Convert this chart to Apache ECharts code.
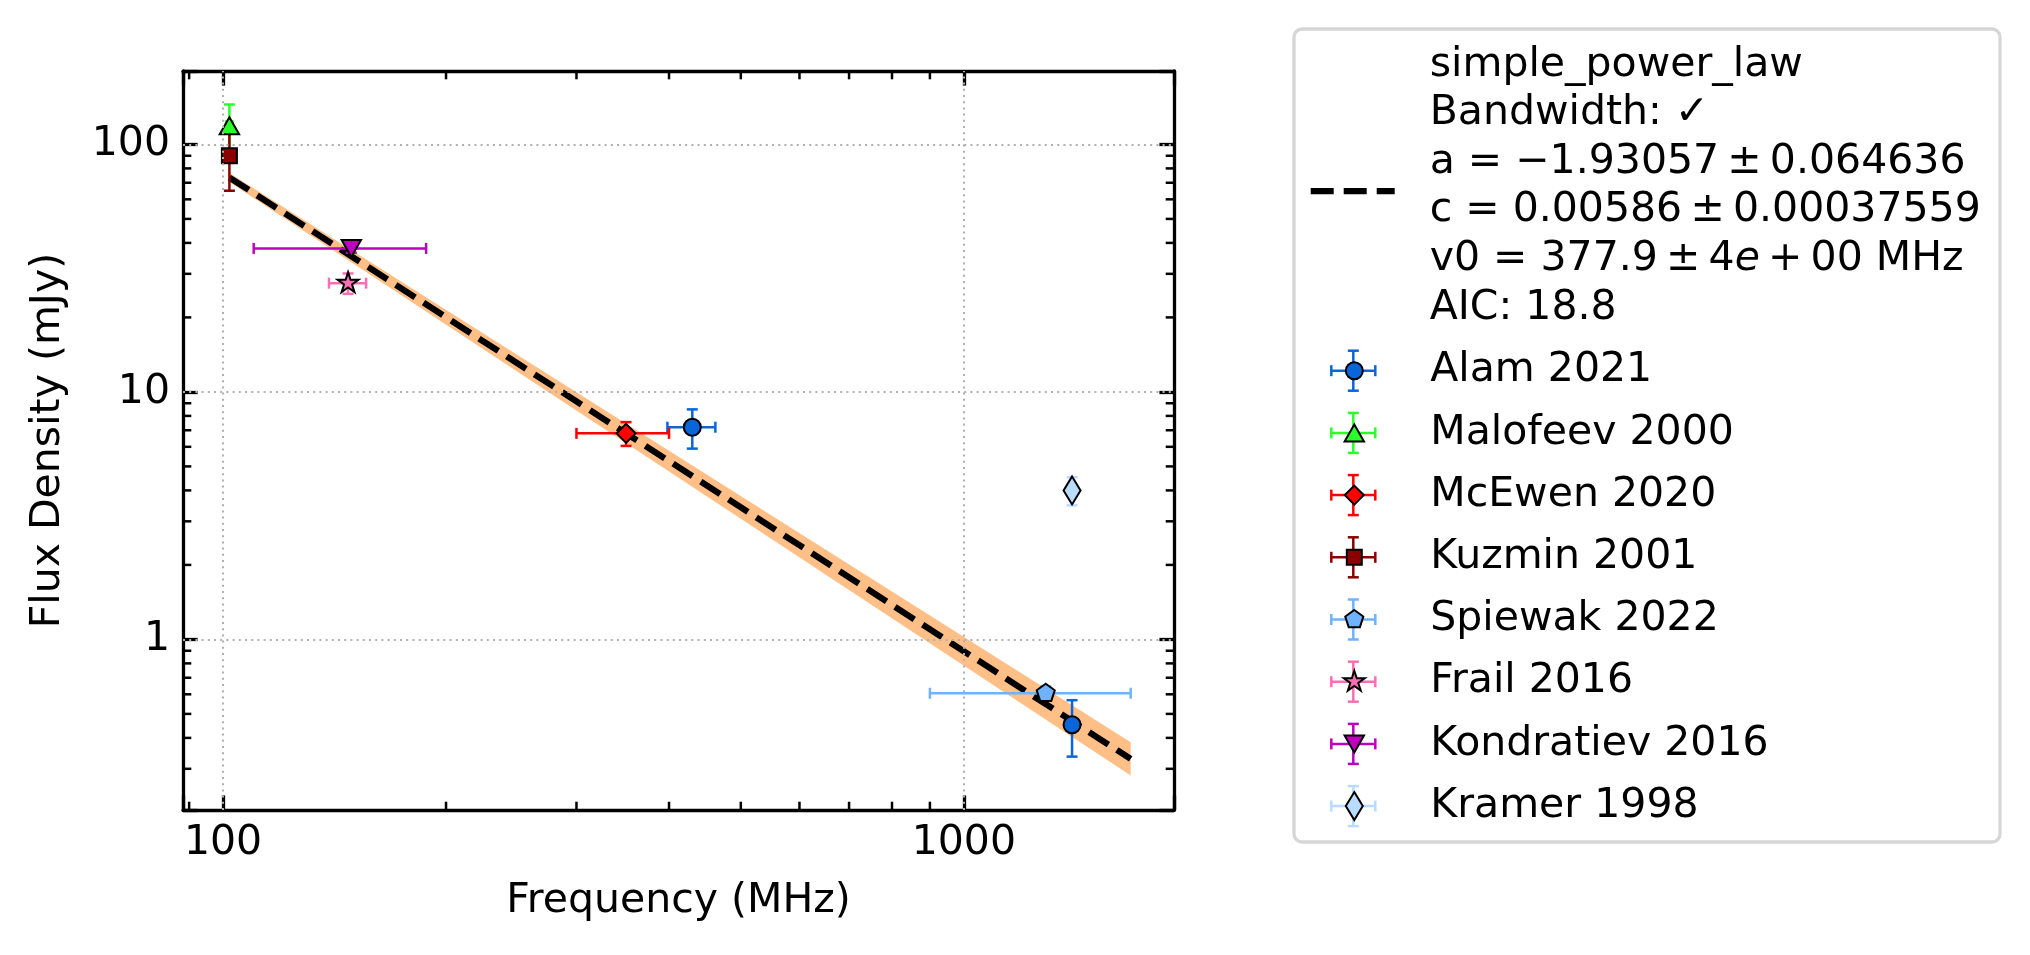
<!DOCTYPE html>
<html>
<head>
<meta charset="utf-8">
<title>Flux density spectrum</title>
<script src="https://cdn.jsdelivr.net/npm/echarts@6.0.0/dist/echarts.min.js"></script>
<style>
html, body { margin: 0; padding: 0; background: #ffffff; }
#spectrum { width: 2030px; height: 955px; }
</style>
</head>
<body>
<div id="spectrum"></div>
<script>
// each row: [frequency (MHz), freq error, flux density (mJy), flux error]
var alam2021       = [[430, 32, 7.2, 1.3], [1400, 25, 0.452, 0.116]];
var malofeev2000   = [[102, 1, 119, 26]];
var mcewen2020     = [[350, 50, 6.8, 0.75]];
var kuzmin2001     = [[102, 1, 90, 25]];
var spiewak2022    = [[1290, 390, 0.606, 0.04]];
var frail2016      = [[147.5, 8.5, 27.5, 2.6]];
var kondratiev2016 = [[149, 39, 38, 1.5]];
var kramer1998     = [[1400, 20, 4.0, 0.52]];

var surveyNames = ['Alam 2021', 'Malofeev 2000', 'McEwen 2020', 'Kuzmin 2001',
                   'Spiewak 2022', 'Frail 2016', 'Kondratiev 2016', 'Kramer 1998'];
var surveyData = [alam2021, malofeev2000, mcewen2020, kuzmin2001,
                  spiewak2022, frail2016, kondratiev2016, kramer1998];

// fitted power law + its uncertainty band
var fitFreq  = [102, 1680];
var fitFlux  = [73.5, 0.329];
var bandFreq = [102, 378, 1680];
var bandLow  = [70.5, 5.33, 0.282];
var bandHigh = [76.6, 6.44, 0.384];

var xMinor = [90, 200, 300, 400, 500, 600, 700, 800, 900];
var yMinor = [0.3, 0.4, 0.5, 0.6, 0.7, 0.8, 0.9, 2, 3, 4, 5, 6, 7, 8, 9,
              20, 30, 40, 50, 60, 70, 80, 90];
var xGrid = [100, 1000];
var yGrid = [1, 10, 100];

var FIT_NAME = 'simple_power_law';
var TS = '\u2009';  // thin space, like mathtext around binary operators
var fitLabel = [
    'simple_power_law',
    'Bandwidth: \u2713',
    'a = \u22121.93057' + TS + '\u00b1' + TS + '0.064636',
    'c = 0.00586' + TS + '\u00b1' + TS + '0.00037559',
    'v0 = 377.9' + TS + '\u00b1' + TS + '4{it|e}' + TS + '+' + TS + '00 MHz',
    'AIC: 18.8'
];

// ---- styling ----
var FONT = 'DejaVu Sans';
var colors = ['#0a66d8', '#2bff2b', '#ff0000', '#8b0000', '#6fb3ff', '#ff6eb4', '#c000c0', '#b9dbff'];
var PAD = 'M-16,-16 M16,16 ';   // keeps every marker in the same 32px frame
var markers = [
    'path://' + PAD + 'M-8.5,0 A8.5,8.5 0 1,1 8.5,0 A8.5,8.5 0 1,1 -8.5,0 Z',
    'path://' + PAD + 'M0,-8.5 L9.7,8.5 L-9.7,8.5 Z',
    'path://' + PAD + 'M0,-9.5 L9.5,0 L0,9.5 L-9.5,0 Z',
    'path://' + PAD + 'M-7.5,-7.5 L7.5,-7.5 L7.5,7.5 L-7.5,7.5 Z',
    'path://' + PAD + 'M0,-9.5 L9.04,-2.94 L5.58,7.69 L-5.58,7.69 L-9.04,-2.94 Z',
    'path://' + PAD + 'M0,-11 L2.47,-3.4 L10.46,-3.4 L4,1.3 L6.47,8.9 L0,4.2 L-6.47,8.9 L-4,1.3 L-10.46,-3.4 L-2.47,-3.4 Z',
    'path://' + PAD + 'M-9.7,-8.5 L9.7,-8.5 L0,8.5 Z',
    'path://' + PAD + 'M0,-14 L8.5,0 L0,14 L-8.5,0 Z'
];
var dashIcon = 'path://M0,0 L23,0 L23,6.25 L0,6.25 Z M33,0 L56,0 L56,6.25 L33,6.25 Z M66,0 L84,0 L84,6.25 L66,6.25 Z';

var chart = echarts.init(document.getElementById('spectrum'));

function tickLabel(v) {
    var l = Math.log10(v);
    if (Math.abs(l - Math.round(l)) > 1e-6) return '';
    return String(Math.round(v));
}

function errorBars(color) {
    return function (params, api) {
        var x = api.value(0), xe = api.value(1), y = api.value(2), ye = api.value(3);
        var l = api.coord([x - xe, y]), r = api.coord([x + xe, y]);
        var t = api.coord([x, y + ye]), b = api.coord([x, y - ye]);
        var cap = 5.5;
        var st = { stroke: color, lineWidth: 2.5 };
        function seg(x1, y1, x2, y2) {
            return { type: 'line', shape: { x1: x1, y1: y1, x2: x2, y2: y2 }, style: st };
        }
        return {
            type: 'group',
            children: [
                seg(l[0], l[1], r[0], r[1]),
                seg(t[0], t[1], b[0], b[1]),
                seg(l[0], l[1] - cap, l[0], l[1] + cap),
                seg(r[0], r[1] - cap, r[0], r[1] + cap),
                seg(t[0] - cap, t[1], t[0] + cap, t[1]),
                seg(b[0] - cap, b[1], b[0] + cap, b[1])
            ]
        };
    };
}

var tickStyle = { stroke: '#000', lineWidth: 2.5 };

var series = [];

// dotted grid at the decades
series.push({
    type: 'line', name: 'grid', data: [], z: 0, silent: true,
    markLine: {
        silent: true, symbol: ['none', 'none'], label: { show: false },
        lineStyle: { color: '#b0b0b0', width: 2, type: [2, 4.2] },
        data: xGrid.map(function (v) { return { xAxis: v }; })
            .concat(yGrid.map(function (v) { return { yAxis: v }; }))
    }
});

// uncertainty band
series.push({
    type: 'custom', name: 'band', z: 1, silent: true,
    data: bandFreq.map(function (f, i) { return [f, bandLow[i], bandHigh[i]]; }),
    renderItem: function (params, api) {
        if (params.dataIndex !== 0) return;
        var pts = [];
        for (var i = 0; i < bandFreq.length; i++) pts.push(api.coord([bandFreq[i], bandHigh[i]]));
        for (var j = bandFreq.length - 1; j >= 0; j--) pts.push(api.coord([bandFreq[j], bandLow[j]]));
        return { type: 'polygon', shape: { points: pts }, style: { fill: '#ffbf86' } };
    }
});

// fitted line
series.push({
    type: 'line', name: FIT_NAME, z: 2, silent: true,
    symbol: 'none', showSymbol: false,
    data: fitFreq.map(function (f, i) { return [f, fitFlux[i]]; }),
    itemStyle: { color: '#000' },
    lineStyle: { color: '#000', width: 6.25, type: [23, 10] }
});

surveyData.forEach(function (rows, i) {
    series.push({
        type: 'custom', name: surveyNames[i] + ' err', z: 3, silent: true,
        encode: { x: 0, y: 2 },
        data: rows,
        renderItem: errorBars(colors[i])
    });
    series.push({
        type: 'scatter', name: surveyNames[i], z: 4, silent: true,
        symbol: markers[i], symbolSize: 32, symbolKeepAspect: true,
        data: rows.map(function (r) { return [r[0], r[2]]; }),
        itemStyle: { color: colors[i], borderColor: '#000', borderWidth: 2, opacity: 1 }
    });
});

// minor ticks on all four sides
series.push({
    type: 'custom', name: 'xminor', z: 6, silent: true,
    data: xMinor.map(function (v) { return [v, 1]; }),
    renderItem: function (params, api) {
        var cs = params.coordSys;
        var px = api.coord([api.value(0), 1])[0];
        return { type: 'group', children: [
            { type: 'line', shape: { x1: px, y1: cs.y + cs.height, x2: px, y2: cs.y + cs.height - 8.3 }, style: tickStyle },
            { type: 'line', shape: { x1: px, y1: cs.y, x2: px, y2: cs.y + 8.3 }, style: tickStyle }
        ] };
    }
});
series.push({
    type: 'custom', name: 'yminor', z: 6, silent: true,
    data: yMinor.map(function (v) { return [100, v]; }),
    renderItem: function (params, api) {
        var cs = params.coordSys;
        var py = api.coord([100, api.value(1)])[1];
        return { type: 'group', children: [
            { type: 'line', shape: { x1: cs.x, y1: py, x2: cs.x + 8.3, y2: py }, style: tickStyle },
            { type: 'line', shape: { x1: cs.x + cs.width, y1: py, x2: cs.x + cs.width - 8.3, y2: py }, style: tickStyle }
        ] };
    }
});

function axisBase(pos, min, max) {
    return {
        type: 'log', logBase: 10, position: pos, min: min, max: max,
        axisLine: { show: true, onZero: false, lineStyle: { color: '#000', width: 3.3 } },
        axisTick: { show: true, inside: true, length: 14.6, lineStyle: { color: '#000', width: 3.3 } },
        axisLabel: { show: false },
        splitLine: { show: false },
        minorTick: { show: false }
    };
}

var xBottom = axisBase('bottom', 88.3, 1922);
xBottom.axisLabel = { show: true, formatter: tickLabel, margin: 13, color: '#000', fontFamily: FONT, fontSize: 41 };
xBottom.name = 'Frequency (MHz)';
xBottom.nameLocation = 'middle';
xBottom.nameGap = 71;
xBottom.nameTextStyle = { color: '#000', fontFamily: FONT, fontSize: 41 };

var yLeft = axisBase('left', 0.2045, 198);
yLeft.axisLabel = { show: true, formatter: tickLabel, margin: 13, color: '#000', fontFamily: FONT, fontSize: 41 };
yLeft.name = 'Flux Density (mJy)';
yLeft.nameLocation = 'middle';
yLeft.nameGap = 114;
yLeft.nameTextStyle = { color: '#000', fontFamily: FONT, fontSize: 41 };

// legend frame + error crosses behind the legend markers
var graphics = [{
    type: 'rect', z: 0,
    shape: { x: 1294, y: 29, width: 706, height: 813, r: 8 },
    style: { fill: '#fff', stroke: '#d6d6d6', lineWidth: 3.3 }
}];
surveyNames.forEach(function (n, i) {
    var cx = 1353.3, cy = 370.7 + 62.2 * i;
    var st = { stroke: colors[i], lineWidth: 2.5 };
    [[cx - 22, cy, cx + 22, cy], [cx, cy - 20, cx, cy + 20],
     [cx - 22, cy - 5.5, cx - 22, cy + 5.5], [cx + 22, cy - 5.5, cx + 22, cy + 5.5],
     [cx - 5.5, cy - 20, cx + 5.5, cy - 20], [cx - 5.5, cy + 20, cx + 5.5, cy + 20]
    ].forEach(function (s) {
        graphics.push({ type: 'line', z: 1, shape: { x1: s[0], y1: s[1], x2: s[2], y2: s[3] }, style: st });
    });
});

var option = {
    backgroundColor: '#fff',
    animation: false,
    grid: { left: 183, top: 71, width: 991, height: 739, show: false },
    xAxis: [xBottom, axisBase('top', 88.3, 1922)],
    yAxis: [yLeft, axisBase('right', 0.2045, 198)],
    legend: [{
        data: [{ name: FIT_NAME, icon: dashIcon }], orient: 'vertical', left: 1310.7, top: 40.7, padding: 0,
        itemWidth: 84, itemHeight: 14, selectedMode: false, symbolKeepAspect: true,
        formatter: function () { return fitLabel.join('\n'); },
        itemStyle: { color: '#000', borderWidth: 0 },
        textStyle: {
            color: '#000', fontFamily: FONT, fontSize: 41, lineHeight: 48.6,
            padding: [0, 0, 9, 30], rich: { it: { fontStyle: 'italic' } }
        }
    }, {
        data: surveyNames.map(function (n, i) { return { name: n, icon: markers[i] }; }),
        orient: 'vertical', left: 1337.3, top: 345.7, padding: 0, itemGap: 12.2,
        itemWidth: 32, itemHeight: 32, selectedMode: false, symbolKeepAspect: true,
        itemStyle: { borderColor: '#000', borderWidth: 2 },
        textStyle: { color: '#000', fontFamily: FONT, fontSize: 41, lineHeight: 50, padding: [0, 0, 0, 55] }
    }],
    graphic: { elements: graphics },
    series: series
};

chart.setOption(option);
</script>
</body>
</html>
